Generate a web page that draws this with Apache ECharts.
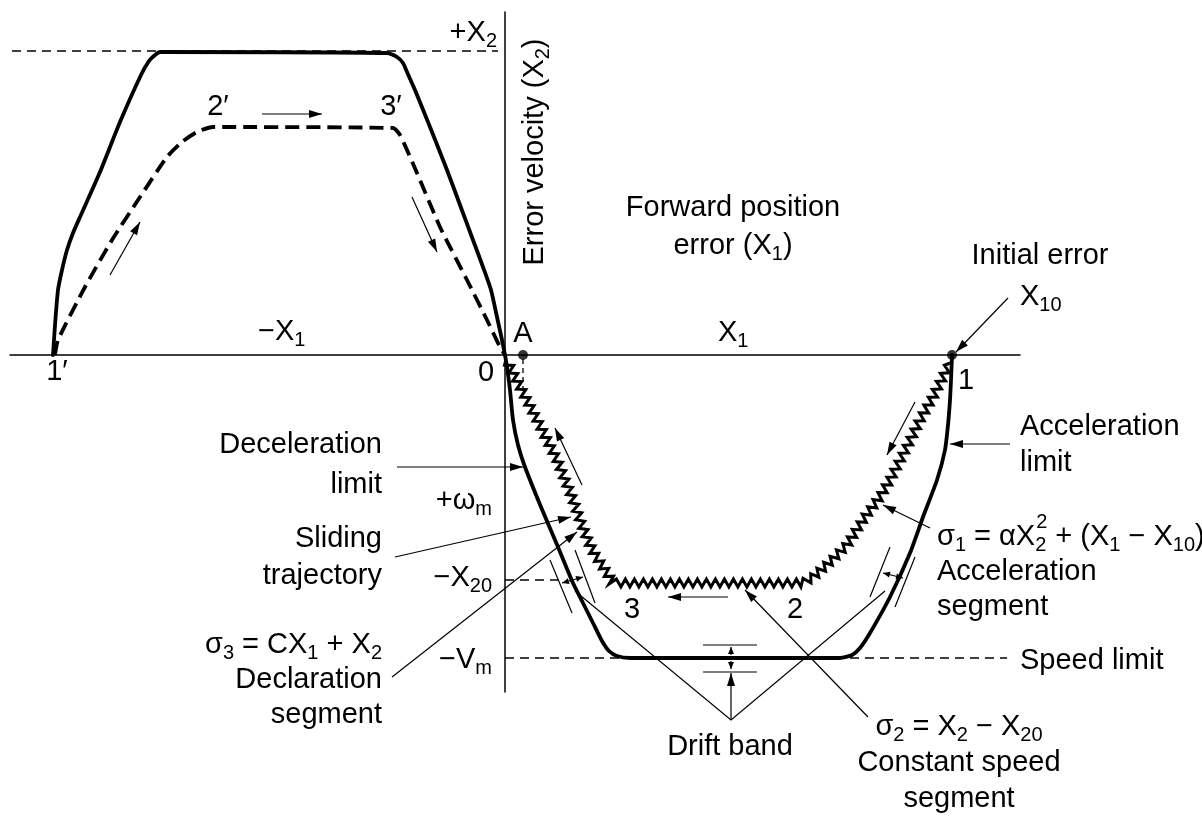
<!DOCTYPE html>
<html><head><meta charset="utf-8">
<script src="https://cdn.jsdelivr.net/npm/echarts@6/dist/echarts.min.js"></script>
<style>html,body{margin:0;padding:0;background:#fff}#c{width:1202px;height:816px}</style>
</head><body><div id="c"></div>
<script>
// ---------- DATA (phase plane: X1 = position error, X2 = error velocity; schematic units) ----------
// Acceleration limit -> speed limit -> deceleration limit, from initial error (point 1) back to 0
const accelSpeedDecelLimit = [[447,0],[446,-25],[445,-45],[443,-70],[440,-95],[432,-125],[418,-162],[405,-198],[385,-242],[365,-278],[355,-293],[347,-300],[335,-303],[125,-303],[112,-301],[104,-296],[97,-286],[88,-268],[78,-248],[68,-228],[53,-192],[36,-152],[20,-112],[13,-90],[8,-65],[5,-35],[2,-12],[0,0]];
// Limit curve for the reverse case (0 -> 1')
const reverseLimit = [[0,0],[-3,15],[-8,38],[-14,65],[-22,88],[-32,115],[-42,142],[-58,185],[-75,228],[-90,265],[-98,283],[-102,292],[-108,298],[-118,302],[-345,303],[-350,300],[-356,294],[-364,280],[-385,233],[-405,183],[-425,138],[-432,122],[-438,105],[-443,85],[-447,65],[-450,30],[-452,0]];
// Dashed reverse trajectory 1' -> 2' -> 3' -> 0
const reverseTrajectory = [[-450,0],[-447,15],[-420,68],[-393,115],[-365,158],[-338,198],[-323,213],[-308,223],[-292,228],[-112,227],[-105,220],[-88,182],[-65,128],[-38,75],[-18,35],[-5,8],[0,0]];
// Sliding trajectory 1 -> 2 -> 3 -> A (drawn as a chattering zig-zag)
const slidingTrajectory = [[445,-8],[438,-22],[428,-42],[415,-65],[402,-92],[385,-125],[375,-142],[360,-162],[342,-190],[325,-207],[308,-222],[298,-228],[108,-228],[102,-218],[90,-200],[84,-188],[76,-168],[68,-145],[52,-105],[32,-65],[15,-32],[5,-12],[1,-4]];
// Reference levels
const plusX2Level = [[-493,304],[-7,304]];
const speedLimitLevel = [[0,-303],[502,-303]];
const minusX20Level = [[0,-225],[58,-225]];
const pointA = [18,0];
const initialErrorX10 = [447,0];
const pointADrop = [[18,-4],[18,-38]];

// ---------- LAYOUT (annotation arrows, in axis units) ----------
const annotations = [
  {pts:[[503,57],[451,3]], head:'end'},          // initial error
  {pts:[[505,-89],[445,-89]], head:'end'},       // acceleration limit
  {pts:[[425,-173],[378,-150]], head:'end'},     // sigma1
  {pts:[[410,-47],[382,-100]], head:'end'},      // motion direction right
  {pts:[[223,-242],[163,-242]], head:'end'},     // 2 -> 3
  {pts:[[363,-362],[240,-235]], head:'end'},     // sigma2
  {pts:[[77,-130],[50,-73]], head:'end'},        // motion direction left
  {pts:[[-108,-112],[18,-112]], head:'end'},     // deceleration limit
  {pts:[[-110,-202],[66,-162]], head:'end'},     // sliding trajectory
  {pts:[[-113,-322],[72,-177]], head:'end'},     // sigma3
  {pts:[[-395,80],[-365,133]], head:'end'},
  {pts:[[-243,241],[-183,241]], head:'end'},
  {pts:[[-93,158],[-68,103]], head:'end'},
  {pts:[[70,-236],[226,-365],[380,-236]], head:'none'}, // drift band V
  {pts:[[226,-365],[226,-318]], head:'end'},
  {pts:[[226,-300],[226,-292]], head:'end', small:true},
  {pts:[[226,-306],[226,-314]], head:'end', small:true},
  {pts:[[198,-290],[252,-290]], head:'none'},
  {pts:[[198,-317],[252,-317]], head:'none'},
  {pts:[[45,-205],[67,-258]], head:'none'},
  {pts:[[70,-195],[90,-248]], head:'none'},
  {pts:[[57,-228],[78,-222]], head:'both', small:true},
  {pts:[[385,-192],[365,-242]], head:'none'},
  {pts:[[410,-202],[390,-252]], head:'none'},
  {pts:[[378,-218],[398,-223]], head:'both', small:true}
];

const FONT = '"Liberation Sans", Arial, Helvetica, sans-serif';
function richStyles(lh){
  return {
    s:{fontSize:20,fontFamily:FONT,fill:'#000',padding:[16,0,0,0],lineHeight:lh},
    sz:{fontSize:20,fontFamily:FONT,fill:'#000',padding:[16,0,0,0],lineHeight:lh,width:1},
    p:{fontSize:20,fontFamily:FONT,fill:'#000',padding:[0,0,30,0],lineHeight:lh}
  };
}
function T(x,y,text,align,lh,extra){
  lh = lh || 36;
  return Object.assign({type:'text',x:x,y:y,silent:true,z:10,
    style:{text:text,fontSize:29,fontFamily:FONT,fill:'#000',align:align||'center',verticalAlign:'middle',lineHeight:lh,rich:richStyles(lh)}}, extra||{});
}
const texts = [
  T(497,33,'+X{s|2}','right'),
  T(535,152,'Error velocity (X{s|2})','center',36,{rotation:Math.PI/2}),
  T(733,227,'Forward position\nerror (X{s|1})','center',38),
  T(1040,256,'Initial error','center'),
  T(1020,297,'X{s|10}','left'),
  T(718,333,'X{s|1}','left'),
  T(523,334,'A','center'),
  T(258,332,'−X{s|1}','left'),
  T(57,372,'1′','center'),
  T(486,373,'0','center'),
  T(966,381,'1','center'),
  T(218,107,'2′','center'),
  T(391,107,'3′','center'),
  T(632,610,'3','center'),
  T(795,610,'2','center'),
  T(382,465,'Deceleration\nlimit','right',40),
  T(382,557,'Sliding\ntrajectory','right',37),
  T(382,680,'σ{s|3} = CX{s|1} + X{s|2}\nDeclaration\nsegment','right',35),
  T(492,501,'+ω{s|m}','right'),
  T(492,578,'−X{s|20}','right'),
  T(492,660,'−V{s|m}','right'),
  T(1020,445,'Acceleration\nlimit','left',36),
  T(937,572,'σ{s|1} = αX{sz|2}{p|2} + (X{s|1} − X{s|10})\nAcceleration\nsegment','left',35),
  T(1020,661,'Speed limit','left'),
  T(959,763,'σ{s|2} = X{s|2} − X{s|20}\nConstant speed\nsegment','center',36),
  T(730,747,'Drift band','center')
];

function head(tip, from, len, hw){
  const dx = tip[0]-from[0], dy = tip[1]-from[1], L = Math.hypot(dx,dy)||1;
  const ux = dx/L, uy = dy/L;
  const bx = tip[0]-ux*len, by = tip[1]-uy*len;
  return {type:'polygon', shape:{points:[tip,[bx-uy*hw,by+ux*hw],[bx+uy*hw,by-ux*hw]]}, style:{fill:'#000',stroke:null}};
}

const chart = echarts.init(document.getElementById('c'), null, {renderer:'canvas'});
const solid = {color:'#000', width:3.8, cap:'round', join:'round'};
const thinDash = {color:'#000', width:1.3, type:[9,6]};
chart.setOption({
  animation:false,
  backgroundColor:'#fff',
  grid:{left:10, top:12, width:1010, height:680, containLabel:false, outerBoundsMode:'none'},
  xAxis:{type:'value', min:-495, max:515, axisLine:{show:true, onZero:true, lineStyle:{color:'#000', width:1.5}}, axisTick:{show:false}, axisLabel:{show:false}, splitLine:{show:false}},
  yAxis:{type:'value', min:-337, max:343, axisLine:{show:true, onZero:true, lineStyle:{color:'#000', width:1.5}}, axisTick:{show:false}, axisLabel:{show:false}, splitLine:{show:false}},
  series:[
    {type:'line', data:plusX2Level, showSymbol:false, clip:false, lineStyle:thinDash, silent:true, z:2},
    {type:'line', data:speedLimitLevel, showSymbol:false, clip:false, lineStyle:thinDash, silent:true, z:2},
    {type:'line', data:minusX20Level, showSymbol:false, clip:false, lineStyle:thinDash, silent:true, z:2},
    {type:'line', data:pointADrop, showSymbol:false, clip:false, lineStyle:{color:'#000', width:1.3, type:[5,4]}, silent:true, z:2},
    {type:'line', data:accelSpeedDecelLimit, showSymbol:false, clip:false, smooth:0.2, lineStyle:solid, silent:true, z:4},
    {type:'line', data:reverseLimit, showSymbol:false, clip:false, smooth:0.2, lineStyle:solid, silent:true, z:4},
    {type:'line', data:reverseTrajectory, showSymbol:false, clip:false, smooth:0.2, lineStyle:{color:'#000', width:3.8, type:[14,7]}, silent:true, z:4},
    {type:'custom', coordinateSystem:'cartesian2d', clip:false, silent:true, z:5,
      data:[slidingTrajectory[0]],
      renderItem:function(params, api){
        const P = slidingTrajectory.map(function(p){return api.coord(p);});
        const cum=[0];
        for(let i=1;i<P.length;i++) cum.push(cum[i-1]+Math.hypot(P[i][0]-P[i-1][0],P[i][1]-P[i-1][1]));
        const L = cum[cum.length-1], step=4.5, amp=4, n=Math.floor(L/step);
        const out=[]; let seg=1;
        for(let k=0;k<=n;k++){
          const d=k*step;
          while(seg<P.length-1 && cum[seg]<d) seg++;
          const a=P[seg-1], b=P[seg], sl=(cum[seg]-cum[seg-1])||1, t=(d-cum[seg-1])/sl;
          const ux=(b[0]-a[0])/sl, uy=(b[1]-a[1])/sl;
          const off=(k===0||k===n)?0:(k%2?amp:-amp);
          out.push([a[0]+(b[0]-a[0])*t - uy*off, a[1]+(b[1]-a[1])*t + ux*off]);
        }
        return {type:'polyline', shape:{points:out}, style:{stroke:'#000', lineWidth:3, fill:null, lineJoin:'miter'}};
      }
    },
    {type:'custom', coordinateSystem:'cartesian2d', clip:false, silent:true, z:6,
      data:annotations.map(function(a,i){return [a.pts[0][0], a.pts[0][1], i];}),
      encode:{x:0,y:1},
      renderItem:function(params, api){
        const a = annotations[api.value(2)];
        const P = a.pts.map(function(p){return api.coord(p);});
        const ch=[{type:'polyline', shape:{points:P}, style:{stroke:'#000', lineWidth:1.2, fill:null}}];
        const len = a.small?7:13, hw = a.small?3:4;
        if(a.head==='end'||a.head==='both') ch.push(head(P[P.length-1],P[P.length-2],len,hw));
        if(a.head==='both') ch.push(head(P[0],P[1],len,hw));
        return {type:'group', children:ch};
      }
    },
    {type:'scatter', data:[pointA, initialErrorX10], symbolSize:10, itemStyle:{color:'#000'}, clip:false, silent:true, z:7}
  ],
  graphic:texts
});
</script></body></html>
